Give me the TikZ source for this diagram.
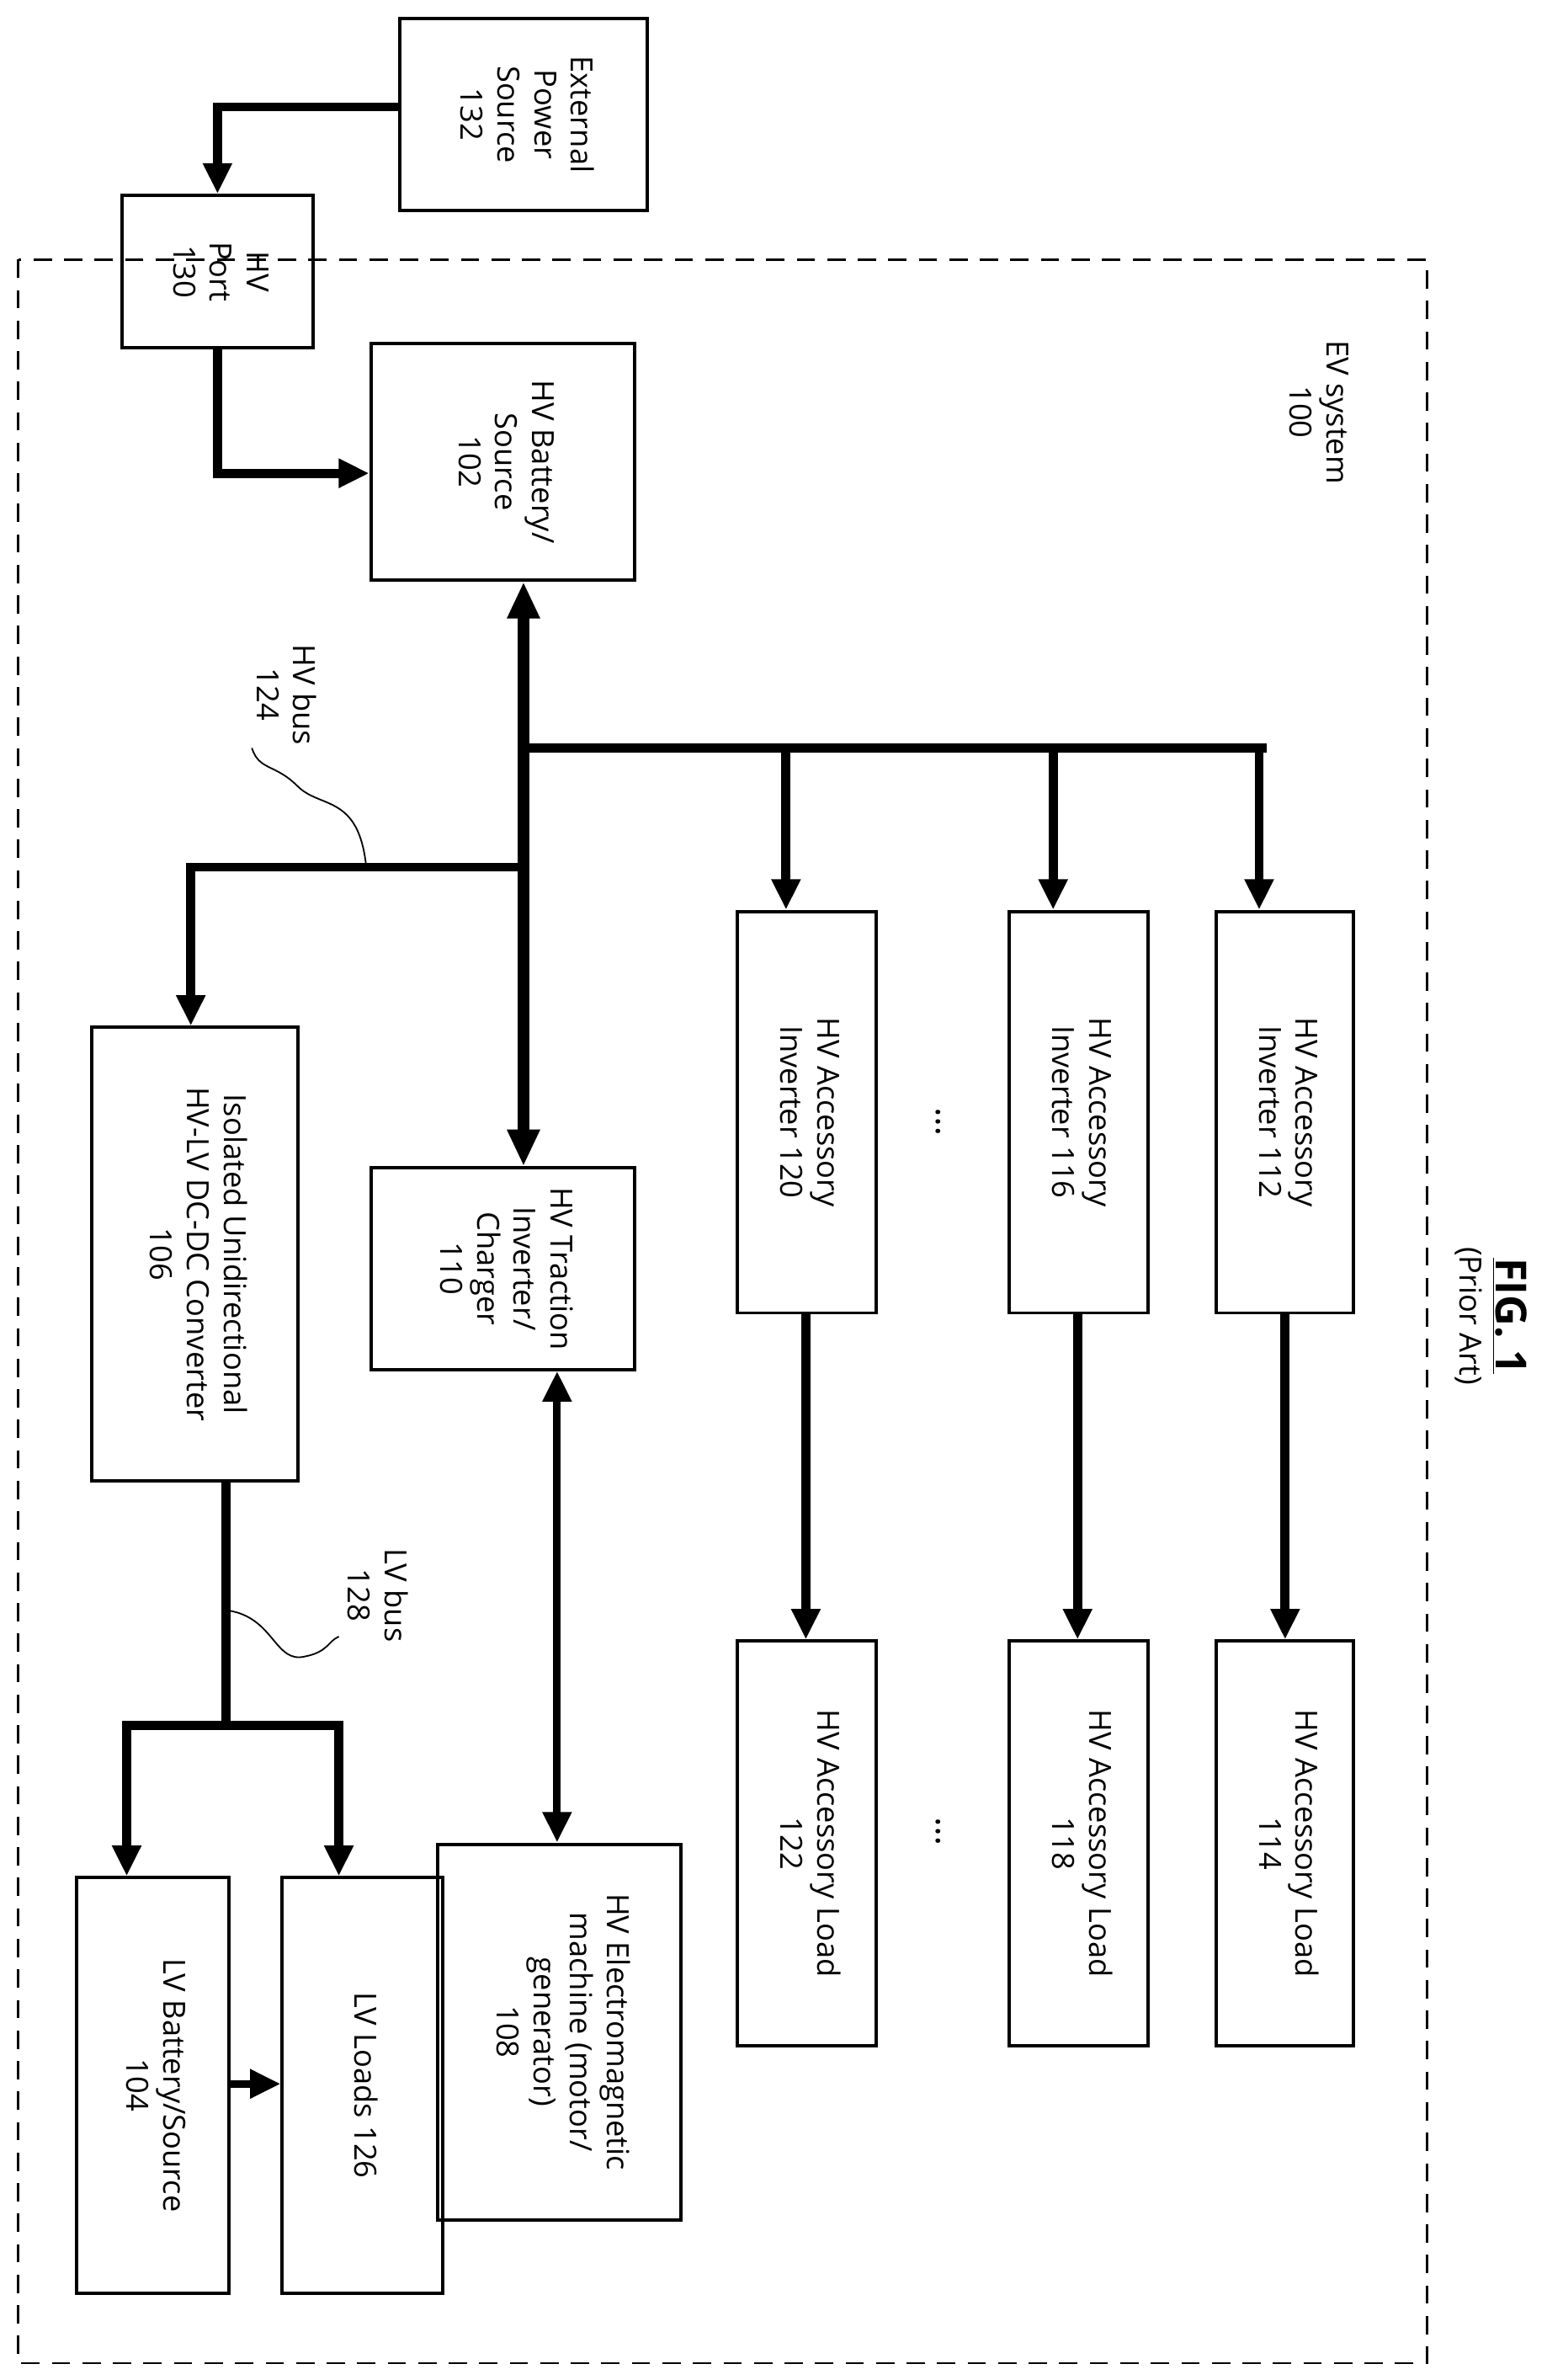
\documentclass[tikz,border=0pt]{standalone}
\usepackage{fontspec}
\setmainfont{Open Sans}
\usetikzlibrary{arrows.meta}
\newcommand{\rt}[1]{\rotatebox{-90}{\begin{tabular}{@{}c@{}}#1\end{tabular}}}
\begin{document}
\begin{tikzpicture}[x=1pt,y=-1pt,
  every node/.style={font=\fontsize{20}{24}\selectfont, inner sep=0pt},
  box/.style={draw, line width=2.2pt},
  ar/.style={line width=6pt, -{Triangle[length=20pt,width=18pt]}},
  big/.style={line width=8pt, {Triangle[length=24pt,width=20pt]}-{Triangle[length=24pt,width=20pt]}},
  mid/.style={line width=5pt, {Triangle[length=20pt,width=18pt]}-{Triangle[length=20pt,width=18pt]}},
  ln/.style={line width=6pt}]
\useasboundingbox (0,0) rectangle (1024,1559);
\draw[line width=1.5pt, dash pattern=on 12pt off 8pt] (12,170) rectangle (935,1548);
\newcommand{\bx}[6]{\node[box, minimum width=#4-#2, minimum height=#5-#3] (#1) at ({(#2+#4)/2},{(#3+#5)/2}) {\rt{#6}};}
\bx{ext}{262}{12}{424}{138}{External\\Power\\Source\\132}
\bx{port}{80}{128}{205}{228}{HV\\Port\\130}
\bx{bat}{243}{225}{416}{380}{HV Battery/\\Source\\102}
\bx{i112}{797}{597}{887}{860}{HV Accessory\\Inverter 112}
\bx{i116}{661}{597}{752}{860}{HV Accessory\\Inverter 116}
\bx{i120}{483}{597}{574}{860}{HV Accessory\\Inverter 120}
\bx{l114}{797}{1075}{887}{1340}{HV Accessory Load\\114}
\bx{l118}{661}{1075}{752}{1340}{HV Accessory Load\\118}
\bx{l122}{483}{1075}{574}{1340}{HV Accessory Load\\122}
\bx{trac}{243}{765}{416}{897}{HV Traction\\Inverter/\\Charger\\110}
\bx{mach}{287}{1208}{446}{1454}{HV Electromagnetic\\machine (motor/\\generator)\\108}
\bx{conv}{60}{673}{195}{970}{Isolated Unidirectional\\HV-LV DC-DC Converter\\106}
\bx{lvl}{185}{1230}{290}{1502}{LV Loads 126}
\bx{lvb}{50}{1230}{150}{1502}{LV Battery/Source\\104}
\node (ev) at (862,270) {\rt{EV system\\100}};
\node (fig) at (975,862) {\rt{{\fontsize{28}{30}\selectfont\bfseries\underline{FIG. 1}}\\(Prior Art)}};
\node (d1) at (615,735) {\rotatebox{-90}{\fontsize{24}{24}\selectfont\dots}};
\node (d2) at (615,1200) {\rotatebox{-90}{\fontsize{24}{24}\selectfont\dots}};
\coordinate (j1) at (343,490); \coordinate (j2) at (343,568); \coordinate (j3) at (148,1130);
\draw[ar] (ext.west |- 0,70) -| (port.north);
\draw[ar] (port.south) |- (bat.west |- 0,310);
\draw[big] (bat.south -| j1) -- (trac.north -| j1);
\draw[ln] (j1) -- (830,490);
\draw[ar] (515,487) -- (i120.north -| 515,0);
\draw[ar] (690,487) -- (i116.north -| 690,0);
\draw[ar] (825,487) -- (i112.north -| 825,0);
\draw[ar] (j2) -| (conv.north -| 125,0);
\draw[ar] (i112.south -| 842,0) -- (l114.north -| 842,0);
\draw[ar] (i116.south -| 706,0) -- (l118.north -| 706,0);
\draw[ar] (i120.south -| 528,0) -- (l122.north -| 528,0);
\draw[mid] (trac.south -| 365,0) -- (mach.north -| 365,0);
\draw[ln] (conv.south -| j3) -- (j3);
\draw[ln] (80,1130) -- (225,1130);
\draw[ar] (222,1127) -- (lvl.north -| 222,0);
\draw[ar] (83,1127) -- (lvb.north -| 83,0);
\draw[ar, line width=5pt] (lvb.east |- 0,1365) -- (lvl.west |- 0,1365);
\node (hvb) at (185,455) {\rt{HV bus\\124}};
\draw[line width=1pt] (240,568) .. controls (235,520) and (210,530) .. (195,515) .. controls (180,500) and (170,505) .. (165,490);
\node (lvbus) at (245,1045) {\rt{LV bus\\128}};
\draw[line width=1pt] (150,1055) .. controls (180,1060) and (180,1090) .. (200,1085) .. controls (215,1082) and (215,1075) .. (222,1072);
\end{tikzpicture}
\end{document}
